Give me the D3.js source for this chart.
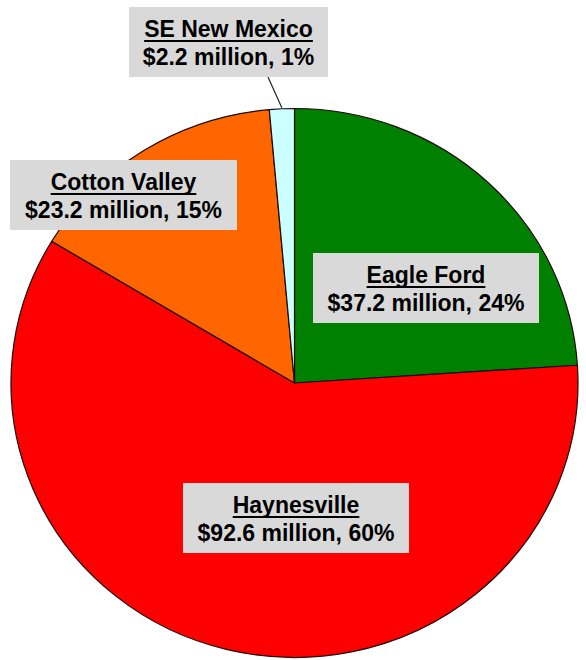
<!DOCTYPE html>
<html>
<head>
<meta charset="utf-8">
<script src="https://cdn.jsdelivr.net/npm/d3@7"></script>
<style>
  html, body { margin: 0; padding: 0; background: #fff; }
  svg { display: block; }
  text { font-family: "Liberation Sans", Arial, sans-serif; font-weight: bold; }
</style>
</head>
<body>
<svg id="chart" width="586" height="660"></svg>
<script>
// ---- data ----
const categories = ["Eagle Ford", "Haynesville", "Cotton Valley", "SE New Mexico"];
const values = [37.2, 92.6, 23.2, 2.2];           // $ million
const valueLabels = ["$37.2 million, 24%", "$92.6 million, 60%", "$23.2 million, 15%", "$2.2 million, 1%"];
const colors = ["#008000", "#ff0000", "#ff6600", "#ccffff"];

// ---- layout ----
const W = 586, H = 660;
const cx = 294.5, cy = 383, ry = 274.5, kx = 283.5 / 274.5;
const labelBoxes = [            // [centerX, top] of each label box
  [426, 253],
  [296, 483],
  [123.5, 160],
  [228.5, 7]
];
const boxW = [226, 226, 227, 199];
const boxH = 70;
const fontSize = 23;

const svg = d3.select("#chart");
svg.append("rect").attr("width", W).attr("height", H).attr("fill", "#fff");

const pie = d3.pie().sort(null).value(d => d)(values);
const arc = d3.arc().innerRadius(0).outerRadius(ry);

const g = svg.append("g").attr("transform", `translate(${cx},${cy}) scale(${kx},1)`);
g.selectAll("path").data(pie).join("path")
  .attr("d", arc)
  .attr("fill", (d, i) => colors[i])
  .attr("stroke", "#1a0a0a")
  .attr("stroke-width", 1.2)
  .attr("stroke-linejoin", "round")
  .attr("vector-effect", "non-scaling-stroke");

// leader line for the small slice
const small = pie[3];
const mid = (small.startAngle + small.endAngle) / 2;
const px = cx + Math.sin(mid) * (ry + 1) * kx;
const py = cy - Math.cos(mid) * (ry + 1);
svg.append("line")
  .attr("x1", 268).attr("y1", labelBoxes[3][1] + boxH)
  .attr("x2", px).attr("y2", py)
  .attr("stroke", "#222").attr("stroke-width", 1.2);

// labels
categories.forEach((name, i) => {
  const [lx, top] = labelBoxes[i];
  const lg = svg.append("g");
  lg.append("rect")
    .attr("x", lx - boxW[i] / 2).attr("y", top)
    .attr("width", boxW[i]).attr("height", boxH)
    .attr("fill", "#d9d9d9");
  const t1 = lg.append("text")
    .attr("x", lx).attr("y", top + 30)
    .attr("text-anchor", "middle")
    .attr("font-size", fontSize)
    .attr("fill", "#000")
    .text(name);
  const w1 = t1.node().getComputedTextLength();
  lg.append("rect")
    .attr("x", lx - w1 / 2).attr("y", top + 33)
    .attr("width", w1).attr("height", 2)
    .attr("fill", "#000");
  lg.append("text")
    .attr("x", lx).attr("y", top + 58)
    .attr("text-anchor", "middle")
    .attr("font-size", fontSize)
    .attr("fill", "#000")
    .text(valueLabels[i]);
});
</script>
</body>
</html>
